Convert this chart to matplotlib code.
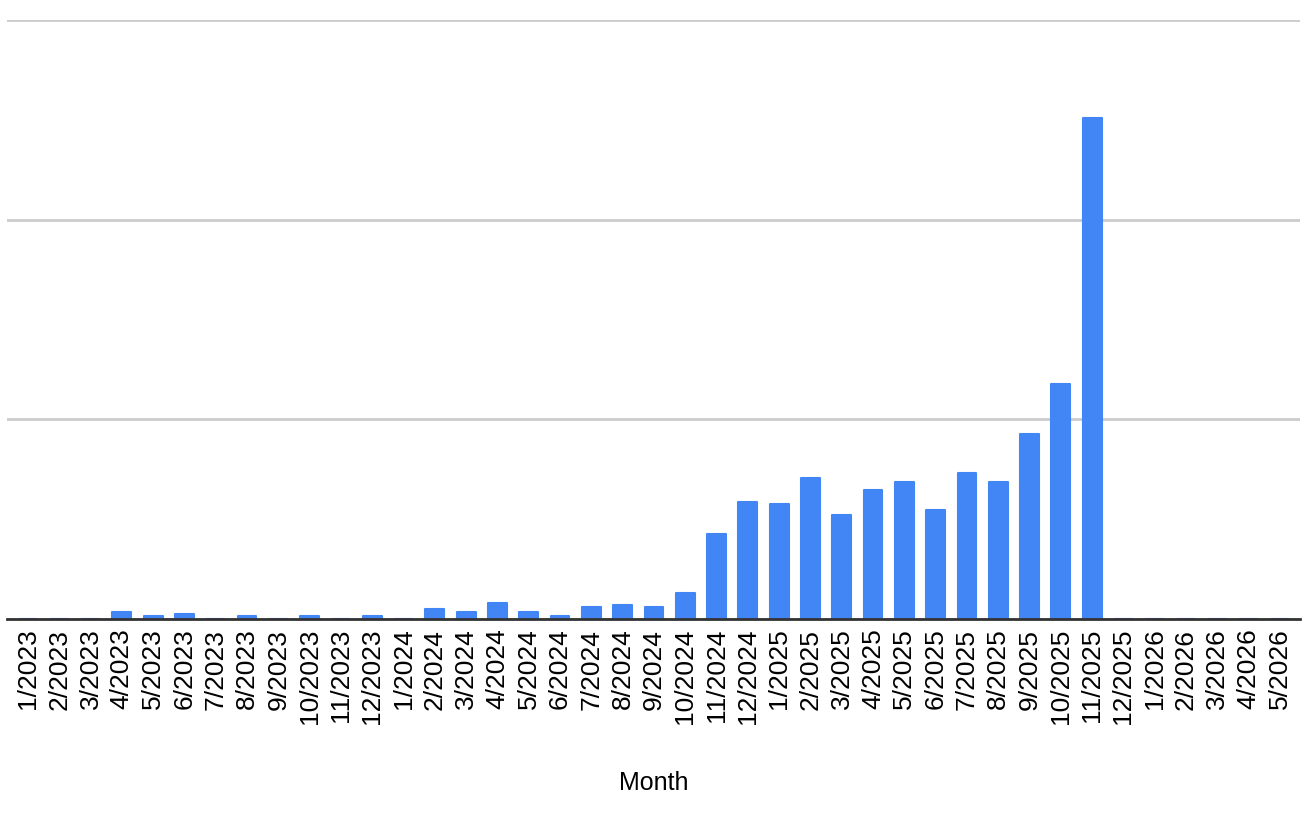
import matplotlib
matplotlib.use("Agg")
import matplotlib.pyplot as plt

plt.rcParams['font.family'] = ['Liberation Sans', 'DejaVu Sans']

# months from 1/2023 to 5/2026
months = ([f"{m}/2023" for m in range(1, 13)]
          + [f"{m}/2024" for m in range(1, 13)]
          + [f"{m}/2025" for m in range(1, 13)]
          + [f"{m}/2026" for m in range(1, 6)])

# values (gridlines at 100, 200, 300)
values = [0, 0, 0, 3.5, 1.5, 2.5, 0, 1.5, 0, 1.5, 0, 1.5,
          0, 5, 3.5, 8, 3.5, 1.5, 6, 7, 6, 13, 42.5, 58.5,
          57.5, 70.5, 52, 64.5, 68.5, 54.5, 73, 68.5, 92.5, 117.5, 251, 0,
          0, 0, 0, 0, 0]

bar_color = "#4285F4"

fig = plt.figure(figsize=(13.02, 8.23), dpi=100)
ax = fig.add_axes([7 / 1302, 1 - 619 / 823, 1293 / 1302, 599 / 823])

x = list(range(len(months)))
ax.bar(x, values, width=0.6, color=bar_color, edgecolor=bar_color,
       linewidth=1.5, joinstyle='round', zorder=3)

ax.set_ylim(0, 300)
ax.set_xlim(-0.67, len(months) - 1 + 0.64)
ax.set_yticks([0, 100, 200, 300])
ax.set_yticklabels([])
ax.tick_params(axis='y', length=0)
ax.grid(axis='y', color='#cccccc', linewidth=2, zorder=0)
ax.set_axisbelow(True)

ax.set_xticks(x)
ax.set_xticklabels(months, rotation=90, fontsize=19)
ax.tick_params(axis='x', length=0, pad=7)

for s in ['top', 'right', 'left']:
    ax.spines[s].set_visible(False)
ax.spines['bottom'].set_color('#333333')
ax.spines['bottom'].set_linewidth(2)
ax.spines['bottom'].set_zorder(4)

ax.set_xlabel("Month", fontsize=18, labelpad=34)

fig.savefig("out.png", dpi=100)
